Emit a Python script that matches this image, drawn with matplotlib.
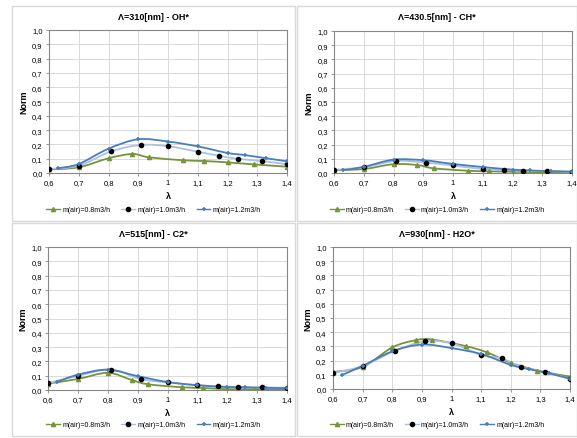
import matplotlib
matplotlib.use("Agg")
import matplotlib.pyplot as plt
from matplotlib.path import Path
from matplotlib.patches import PathPatch, Rectangle
from matplotlib.lines import Line2D

plt.rcParams['font.family'] = ['Liberation Sans', 'DejaVu Sans']

# lambda positions of each series
green_x = [0.6, 0.7, 0.8, 0.88, 0.935, 1.05, 1.12, 1.2, 1.29, 1.4]
black_x = [0.6, 0.7, 0.81, 0.91, 1.0, 1.1, 1.17, 1.235, 1.315, 1.4]
blue_x = [0.63, 0.7, 0.8, 0.9, 1.0, 1.1, 1.2, 1.26, 1.33, 1.4]

# OH*
oh_green = [0.025, 0.04, 0.103, 0.133, 0.11, 0.089, 0.084, 0.074, 0.06, 0.044]
oh_black = [0.028, 0.051, 0.152, 0.196, 0.187, 0.149, 0.121, 0.099, 0.084, 0.061]
oh_blue = [0.033, 0.063, 0.17, 0.236, 0.22, 0.186, 0.14, 0.125, 0.103, 0.082]
# CH*
ch_green = [0.02, 0.028, 0.062, 0.056, 0.033, 0.016, 0.012, 0.009, 0.006, 0.005]
ch_black = [0.022, 0.041, 0.085, 0.073, 0.053, 0.028, 0.023, 0.014, 0.014, 0.008]
ch_blue = [0.02, 0.043, 0.094, 0.09, 0.064, 0.042, 0.024, 0.018, 0.013, 0.01]
# C2*
c2_green = [0.045, 0.077, 0.12, 0.07, 0.04, 0.019, 0.014, 0.006, 0.004, 0.005]
c2_black = [0.047, 0.099, 0.143, 0.077, 0.053, 0.035, 0.025, 0.022, 0.019, 0.015]
c2_blue = [0.057, 0.107, 0.142, 0.097, 0.056, 0.033, 0.021, 0.018, 0.015, 0.013]
# H2O*
h2o_green = [0.12, 0.155, 0.293, 0.344, 0.348, 0.301, 0.258, 0.185, 0.13, 0.087]
h2o_black = [0.112, 0.162, 0.27, 0.335, 0.322, 0.24, 0.215, 0.157, 0.12, 0.072]
h2o_blue = [0.098, 0.163, 0.265, 0.313, 0.288, 0.246, 0.17, 0.14, 0.11, 0.072]

titles = ["Λ=310[nm] - OH*", "Λ=430.5[nm] - CH*", "Λ=515[nm] - C2*", "Λ=930[nm] - H2O*"]
labels = ["m(air)=0.8m3/h", "m(air)=1.0m3/h", "m(air)=1.2m3/h"]
x_ticks = [0.6, 0.7, 0.8, 0.9, 1.0, 1.1, 1.2, 1.3, 1.4]
x_ticklabels = ["0,6", "0,7", "0,8", "0,9", "1", "1,1", "1,2", "1,3", "1,4"]
y_ticks = [0.0, 0.1, 0.2, 0.3, 0.4, 0.5, 0.6, 0.7, 0.8, 0.9, 1.0]
y_ticklabels = ["0,0", "0,1", "0,2", "0,3", "0,4", "0,5", "0,6", "0,7", "0,8", "0,9", "1,0"]

panels = [
    (oh_green, oh_black, oh_blue),
    (ch_green, ch_black, ch_blue),
    (c2_green, c2_black, c2_blue),
    (h2o_green, h2o_black, h2o_blue),
]

GREEN = '#77933c'
LIGHT = '#a9c2e2'
BLUE = '#4a7ebb'

W, H = 577, 439

# pixel boxes: (panel left, top, right, bottom), (axes left, top, right, bottom)
boxes = [
    ((12, 7, 295, 222), (49, 31, 287, 174)),
    ((297, 7, 577, 222), (334, 32, 572, 174)),
    ((12, 224, 295, 437), (48, 248, 287, 391)),
    ((297, 224, 577, 437), (333, 248, 570, 390)),
]


def smooth_path(xs, ys):
    """ Bezier path through the points, like the Excel smoothed line """
    pts = list(zip(xs, ys))
    verts = [pts[0]]
    codes = [Path.MOVETO]
    n = len(pts)
    for i in range(n - 1):
        p0 = pts[i - 1] if i > 0 else pts[i]
        p1 = pts[i]
        p2 = pts[i + 1]
        p3 = pts[i + 2] if i + 2 < n else pts[i + 1]
        c1 = (p1[0] + (p2[0] - p0[0]) / 6, p1[1] + (p2[1] - p0[1]) / 6)
        c2 = (p2[0] - (p3[0] - p1[0]) / 6, p2[1] - (p3[1] - p1[1]) / 6)
        verts += [c1, c2, p2]
        codes += [Path.CURVE4] * 3
    return Path(verts, codes)


fig = plt.figure(figsize=(W / 100, H / 100), dpi=100)

for k, (series, (pbox, abox)) in enumerate(zip(panels, boxes)):
    pl, pt, pr, pb = pbox
    fig.patches.append(Rectangle((pl / W, 1 - pb / H), (pr - pl) / W, (pb - pt) / H,
                                 transform=fig.transFigure, fill=False,
                                 edgecolor='#d9d9d9', lw=1.0))
    al, at, ar, ab = abox
    ax = fig.add_axes([al / W, 1 - ab / H, (ar - al) / W, (ab - at) / H])
    g, b, bl = series

    for xs, ys, col in [(green_x, g, GREEN), (black_x, b, LIGHT), (blue_x, bl, BLUE)]:
        ax.add_patch(PathPatch(smooth_path(xs, ys), fill=False, edgecolor=col, lw=1.3, zorder=3))
    ax.plot(green_x, g, ls='none', marker='^', ms=3, color=GREEN, zorder=4)
    ax.plot(black_x, b, ls='none', marker='o', ms=3, color='black', zorder=4)
    ax.plot(blue_x, bl, ls='none', marker='+', ms=3.5, mew=1.1, color=BLUE, zorder=4)

    ax.set_xlim(0.6, 1.4)
    ax.set_ylim(0, 1.0)
    ax.set_xticks(x_ticks)
    ax.set_xticklabels(x_ticklabels)
    ax.set_yticks(y_ticks)
    ax.set_yticklabels(y_ticklabels)
    ax.tick_params(labelsize=5.5, length=2.5, width=0.6, color='#868686', pad=2)
    ax.grid(True, color='#d9d9d9', lw=0.7)
    ax.set_axisbelow(True)
    for s in ax.spines.values():
        s.set_color('#868686')
        s.set_linewidth(0.8)

    ax.set_ylabel("Norm", fontsize=6.5, fontweight='bold')
    ax.yaxis.set_label_coords(-0.085, 0.5)
    ax.set_xlabel("λ", fontsize=6.5, fontweight='bold')
    ax.xaxis.set_label_coords(0.5, -0.125)

    cx = (pl + pr) / 2 / W
    fig.text(cx, 1 - (pt + 11) / H, titles[k], ha='center', va='center',
             fontsize=6.5, fontweight='bold')

    handles = [
        Line2D([], [], color=GREEN, marker='^', ms=3, lw=1.0),
        Line2D([], [], color=LIGHT, marker='o', ms=3, mfc='black', mec='black', lw=1.0),
        Line2D([], [], color=BLUE, marker='+', ms=3.5, mew=1.1, lw=1.0),
    ]
    fig.legend(handles, labels, loc='center', bbox_to_anchor=(cx, 1 - (pb - 11) / H),
               ncol=3, frameon=False, fontsize=5, handlelength=2.0, handletextpad=0.3,
               columnspacing=1.6, borderpad=0)

fig.savefig("out.png", dpi=100)
